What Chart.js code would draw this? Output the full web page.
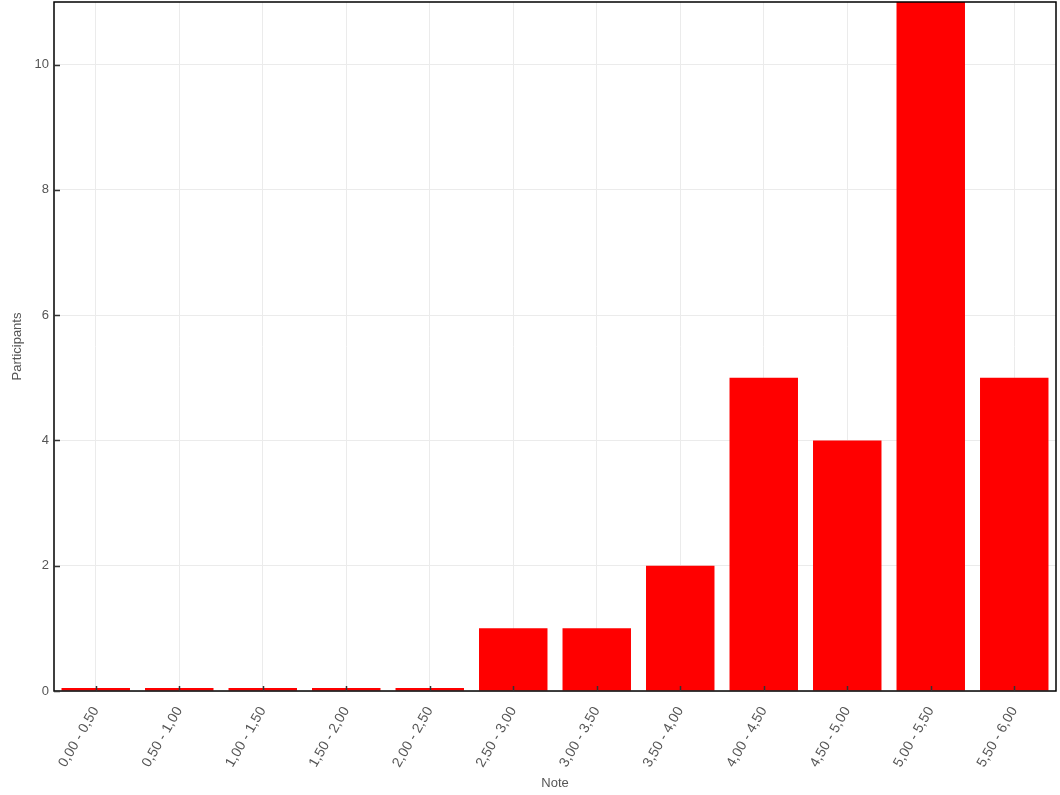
<!DOCTYPE html>
<html>
<head>
<meta charset="utf-8">
<script src="https://cdn.jsdelivr.net/npm/chart.js@4"></script>
<style>
  html, body { margin: 0; padding: 0; background: #fff; }
  #wrap { width: 1060px; height: 795px; }
</style>
</head>
<body>
<div id="wrap"><canvas id="chart" width="1060" height="795"></canvas></div>
<script>
"use strict";

// Grade distribution: number of participants per grade band.
const CATEGORIES = ["0,00 - 0,50", "0,50 - 1,00", "1,00 - 1,50", "1,50 - 2,00",
  "2,00 - 2,50", "2,50 - 3,00", "3,00 - 3,50", "3,50 - 4,00", "4,00 - 4,50",
  "4,50 - 5,00", "5,00 - 5,50", "5,50 - 6,00"];
const PARTICIPANTS = [0, 0, 0, 0, 0, 1, 1, 2, 5, 4, 11, 5];
const Y_MAX = 11;
const Y_TICKS = [0, 2, 4, 6, 8, 10];

const FONT = { family: "'Liberation Sans', Arial, sans-serif", size: 13 };
const X_FONT = { family: "'Liberation Sans', Arial, sans-serif", size: 14 };
const TEXT = "#555";

// frame around the plot + short inward tick marks, like the original
const framePlugin = {
  id: "frame",
  afterDatasetsDraw(chart) {
    const { ctx, chartArea: a, scales } = chart;
    ctx.save();
    ctx.strokeStyle = "#000";
    ctx.lineWidth = 1.5;
    ctx.strokeRect(a.left, a.top, a.right - a.left, a.bottom - a.top);
    ctx.strokeStyle = "#333";
    ctx.beginPath();
    scales.x.ticks.forEach((t, i) => {
      const x = Math.round(scales.x.getPixelForTick(i)) + 0.5;
      ctx.moveTo(x, a.bottom);
      ctx.lineTo(x, a.bottom - 5);
    });
    scales.y.ticks.forEach((t) => {
      const y = Math.round(scales.y.getPixelForValue(t.value)) + 0.5;
      ctx.moveTo(a.left, y);
      ctx.lineTo(a.left + 6, y);
    });
    ctx.stroke();
    ctx.restore();
  },
};

new Chart(document.getElementById("chart"), {
  type: "bar",
  data: {
    labels: CATEGORIES,
    datasets: [{
      label: "Participants",
      data: PARTICIPANTS,
      backgroundColor: "#ff0000",
      borderWidth: 0,
      minBarLength: 3,
      barPercentage: 0.82,
      categoryPercentage: 1.0,
    }],
  },
  options: {
    responsive: false,
    animation: false,
    layout: { padding: { top: 2, right: 4, left: 0, bottom: 0 } },
    plugins: { legend: { display: false }, tooltip: { enabled: false } },
    scales: {
      x: {
        grid: { color: "#ebebeb", lineWidth: 1, offset: false, drawTicks: false },
        border: { display: false },
        ticks: {
          color: TEXT, font: X_FONT, minRotation: 60, maxRotation: 60,
          autoSkip: false, padding: 13,
        },
        title: { display: true, text: "Note", color: TEXT, font: FONT, padding: { top: 0, bottom: 4 } },
        afterFit: (s) => { s.height = 104; s.paddingLeft = 0; s.paddingRight = 0; },
      },
      y: {
        min: 0,
        max: Y_MAX,
        afterBuildTicks: (s) => { s.ticks = Y_TICKS.map((v) => ({ value: v })); },
        grid: { color: "#ebebeb", lineWidth: 1, drawTicks: false },
        border: { display: false },
        ticks: { color: TEXT, font: FONT, padding: 5 },
        title: { display: true, text: "Participants", color: TEXT, font: FONT, padding: { top: 10, bottom: 0 } },
        afterFit: (s) => { s.width = 54; s.paddingTop = 0; s.paddingBottom = 0; },
      },
    },
  },
  plugins: [framePlugin],
});
</script>
</body>
</html>
